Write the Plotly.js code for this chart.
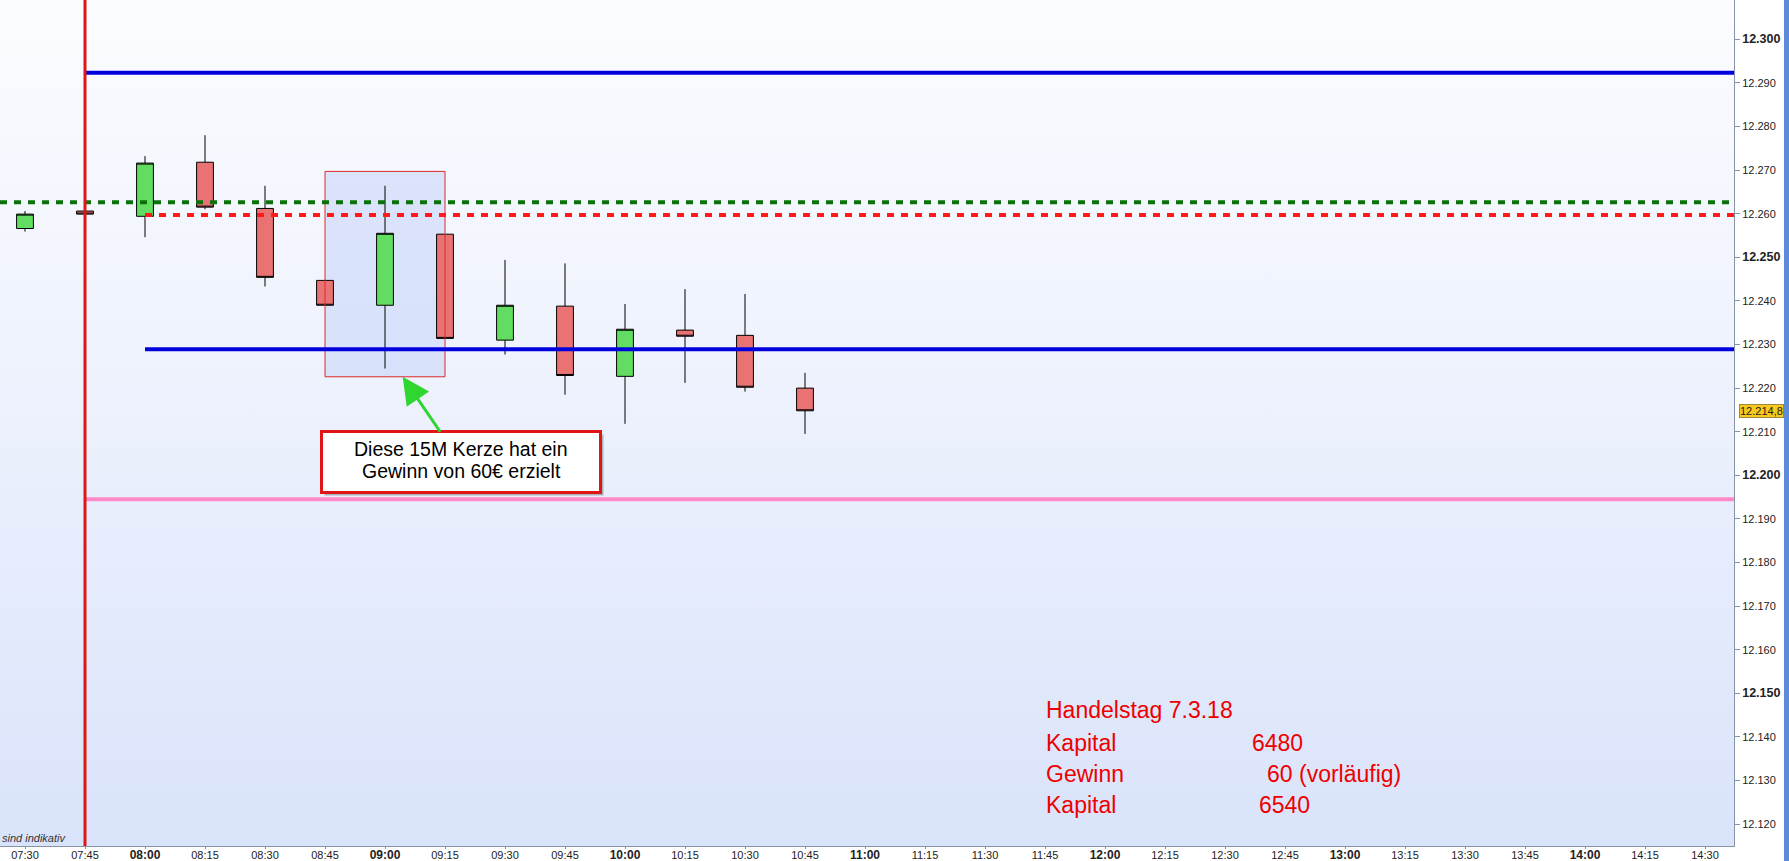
<!DOCTYPE html>
<html><head><meta charset="utf-8">
<script src="https://cdn.plot.ly/plotly-3.0.1.min.js"></script>
<style>
html,body{margin:0;padding:0;background:#fff;overflow:hidden;}
#wrap{position:relative;width:1784px;height:861px;border-right:5px solid #5b8bd9;background:#fff;}
#bg{position:absolute;left:0;top:0;width:1734px;height:846px;background:linear-gradient(to bottom,#fbfcff 0%,#eef2fd 45%,#d9e3fa 100%);}
#chart{position:absolute;left:0;top:0;width:1784px;height:861px;}
</style></head><body>
<div id="wrap"><div id="bg"></div><div id="chart"></div></div>
<script>
// ---- data ----
const day = '2018-03-07 ';
const times  = ['07:30','07:45','08:00','08:15','08:30','08:45','09:00','09:15','09:30','09:45','10:00','10:15','10:30','10:45'];
const opens  = [12256.6,12260.6,12259.4,12271.8,12261.2,12244.7,12239.0,12255.3,12231.0,12238.8,12222.7,12233.3,12232.1,12220.0];
const highs  = [12260.6,12260.6,12273.2,12278.0,12266.4,12244.7,12266.4,12255.3,12249.4,12248.6,12239.3,12242.7,12241.6,12223.5];
const lows   = [12255.9,12259.9,12254.6,12261.0,12243.3,12239.0,12224.5,12231.4,12227.7,12218.5,12211.8,12221.2,12219.2,12209.5];
const closes = [12259.9,12259.9,12271.6,12261.5,12245.4,12239.0,12255.5,12231.4,12239.0,12222.9,12233.5,12231.9,12220.2,12214.8];

const xTickLabels = ['07:30','07:45','08:00','08:15','08:30','08:45','09:00','09:15','09:30','09:45','10:00','10:15','10:30','10:45','11:00','11:15','11:30','11:45','12:00','12:15','12:30','12:45','13:00','13:15','13:30','13:45','14:00','14:15','14:30'];
const yTickVals = [12120,12130,12140,12150,12160,12170,12180,12190,12200,12210,12220,12230,12240,12250,12260,12270,12280,12290,12300];
const yTickLabels = ['12.120','12.130','12.140','12.150','12.160','12.170','12.180','12.190','12.200','12.210','12.220','12.230','12.240','12.250','12.260','12.270','12.280','12.290','12.300'];

const viewStart = '07:23:45', viewEnd = '14:37:15';
const yMin = 12115, yMax = 12309;

// horizontal levels: price and start time
const levelTopBlue = 12292.3, levelTopBlueStart = '07:45';
const levelGreen = 12262.6,   levelGreenStart = viewStart;
const levelRed = 12259.7,     levelRedStart = '08:00';
const levelBlue = 12228.9,    levelBlueStart = '08:00';
const levelPink = 12194.5,    levelPinkStart = '07:45';
const entryTime = '07:45';

// highlighted candle zone
const zoneTimes = ['08:45','09:15'];
const zonePrices = [12222.6,12269.7];

// callout
const calloutLines = ['Diese 15M Kerze hat ein', 'Gewinn von 60€ erzielt'];
const calloutTip = ['09:04:25', 12222.6];
const calloutBox = ['09:19:00', 12203.0];

const lastPrice = 12214.8;
const lastPriceLabel = '12.214,8';

const infoLabels = ['Handelstag 7.3.18','Kapital','Gewinn','Kapital'];
const infoValues = ['','6480','60 (vorläufig)','6540'];
const footnote = 'sind indikativ';

// ---- chart ----
const FONT = 'Arial, "Liberation Sans", sans-serif';
const xTickText = xTickLabels.map(l => l.endsWith(':00') ? '<b><span style="font-size:12px">' + l + '</span></b>' : l);
const yTickText = yTickLabels.map((l, i) => yTickVals[i] % 50 === 0 ? '<b><span style="font-size:12.5px">' + l + '</span></b>' : l);

const trace = {
  type: 'candlestick',
  x: times.map(t => day + t),
  open: opens, high: highs, low: lows, close: closes,
  increasing: {line: {color: '#000', width: 1}, fillcolor: '#62dd62'},
  decreasing: {line: {color: '#000', width: 1}, fillcolor: '#e97373'},
  whiskerwidth: 0,
  hoverinfo: 'skip',
  showlegend: false
};

function hline(y, start, color, width, dash) {
  return {type: 'line', xref: 'x', yref: 'y', x0: day + start, x1: day + viewEnd, y0: y, y1: y,
          line: {color: color, width: width, dash: dash || 'solid'}, layer: 'above'};
}

const shapes = [
  {type: 'rect', xref: 'x', yref: 'y', x0: day + zoneTimes[0], x1: day + zoneTimes[1], y0: zonePrices[0], y1: zonePrices[1],
   fillcolor: 'rgba(196,212,248,0.55)', line: {width: 0}, layer: 'below'},
  {type: 'rect', xref: 'x', yref: 'y', x0: day + zoneTimes[0], x1: day + zoneTimes[1], y0: zonePrices[0], y1: zonePrices[1],
   fillcolor: 'rgba(0,0,0,0)', line: {color: '#dc2b2b', width: 1}, layer: 'above'},
  hline(levelTopBlue, levelTopBlueStart, '#0000dd', 4),
  hline(levelGreen, levelGreenStart, '#0b720b', 4, '7px,7px'),
  hline(levelRed, levelRedStart, '#ff1a1a', 4, '7px,7px'),
  hline(levelBlue, levelBlueStart, '#0000dd', 4),
  hline(levelPink, levelPinkStart, '#ff88c6', 4),
  {type: 'line', xref: 'x', yref: 'paper', x0: day + entryTime, x1: day + entryTime, y0: 0, y1: 1,
   line: {color: '#e01515', width: 3}, layer: 'above'}
];

const annotations = [
  // shadow of callout
  {xref: 'x', yref: 'y', x: day + calloutBox[0], y: calloutBox[1], text: '', showarrow: false,
   xanchor: 'center', yanchor: 'middle', width: 276, height: 58, borderpad: 0, borderwidth: 3,
   bordercolor: 'rgba(0,0,0,0)', bgcolor: 'rgba(60,60,60,0.35)', xshift: 3, yshift: -3},
  // callout box with arrow
  {xref: 'x', yref: 'y', x: day + calloutTip[0], y: calloutTip[1],
   axref: 'x', ayref: 'y', ax: day + calloutBox[0], ay: calloutBox[1],
   text: ' ', showarrow: true, arrowhead: 2, arrowsize: 1.8, arrowwidth: 3, arrowcolor: '#2fd62f',
   width: 276, height: 58, borderpad: 0, borderwidth: 3, bordercolor: '#e01515', bgcolor: '#ffffff',
   align: 'center', font: {family: FONT, size: 19, color: '#000'}},
  // callout text lines
  {xref: 'x', yref: 'y', x: day + calloutBox[0], y: calloutBox[1], text: calloutLines[0], showarrow: false,
   xanchor: 'center', yanchor: 'middle', yshift: 13, font: {family: FONT, size: 19.5, color: '#000'}},
  {xref: 'x', yref: 'y', x: day + calloutBox[0], y: calloutBox[1], text: calloutLines[1], showarrow: false,
   xanchor: 'center', yanchor: 'middle', yshift: -9, font: {family: FONT, size: 19.5, color: '#000'}},
  // last price tag
  {xref: 'paper', yref: 'y', x: 1, y: lastPrice, xanchor: 'left', yanchor: 'middle', xshift: 5,
   text: lastPriceLabel, showarrow: false, bgcolor: '#f8c91c', bordercolor: '#9c8a3c', borderwidth: 1, borderpad: 0,
   font: {family: FONT, size: 11, color: '#222'}},
  // footnote
  {xref: 'paper', yref: 'paper', x: 0, y: 0, xanchor: 'left', yanchor: 'bottom', yshift: 0,
   text: '<i>' + footnote + '</i>', showarrow: false, font: {family: FONT, size: 11, color: '#333'}}
];

const infoRowsY = [0.1608, 0.1217, 0.0851, 0.0485];
const infoValueX = [0, 0.7209, 0.7295, 0.7249];
infoLabels.forEach((t, i) => {
  annotations.push({xref: 'paper', yref: 'paper', x: 0.6021, y: infoRowsY[i], xanchor: 'left', yanchor: 'middle',
    text: t, showarrow: false, font: {family: FONT, size: 23, color: '#ee0000'}});
  if (infoValues[i]) annotations.push({xref: 'paper', yref: 'paper', x: infoValueX[i], y: infoRowsY[i], xanchor: 'left', yanchor: 'middle',
    text: infoValues[i], showarrow: false, font: {family: FONT, size: 23, color: '#ee0000'}});
});

const layout = {
  width: 1784, height: 861,
  margin: {l: 0, r: 50, t: 0, b: 15, autoexpand: false},
  paper_bgcolor: 'rgba(0,0,0,0)', plot_bgcolor: 'rgba(0,0,0,0)',
  showlegend: false,
  boxgap: 0.6,
  font: {family: FONT, color: '#222'},
  xaxis: {type: 'date', range: [day + viewStart, day + viewEnd], tickmode: 'array',
    tickvals: xTickLabels.map(t => day + t), ticktext: xTickText,
    ticks: 'outside', ticklen: 2, ticklabelstandoff: -3, tickcolor: '#8593a8', showline: true, linecolor: '#8593a8', linewidth: 1,
    showgrid: false, zeroline: false, rangeslider: {visible: false}, fixedrange: true,
    tickfont: {family: FONT, size: 11, color: '#222'}},
  yaxis: {side: 'right', range: [yMin, yMax], tickmode: 'array', tickvals: yTickVals, ticktext: yTickText,
    ticks: 'outside', ticklen: 5, tickcolor: '#8593a8', showline: true, linecolor: '#8593a8', linewidth: 1,
    showgrid: false, zeroline: false, fixedrange: true,
    tickfont: {family: FONT, size: 11, color: '#222'}},
  shapes: shapes,
  annotations: annotations
};

Plotly.newPlot('chart', [trace], layout, {displayModeBar: false, staticPlot: true});
</script></body></html>
